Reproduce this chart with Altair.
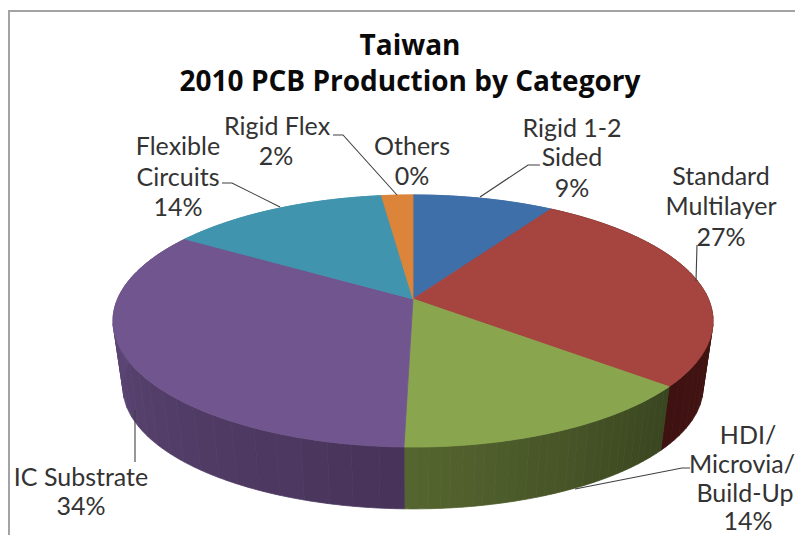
import math
import altair as alt

# Slice data, clockwise from 12 o'clock
categories = ["Rigid 1-2 Sided", "Standard Multilayer", "HDI/Microvia/Build-Up",
              "IC Substrate", "Flexible Circuits", "Rigid Flex", "Others"]
shares = [9.0, 27.0, 14.4, 33.6, 14.0, 2.0, 0.0]
top_colors = ["#3f6fa8", "#a6443f", "#89a64e", "#71558e", "#4194ae", "#dc8439", "#dc8439"]
wall_start = ["#3f6fa8", "#4c1b19", "#3a4620", "#48345a", "#4194ae", "#dc8439", "#dc8439"]
wall_end = ["#3f6fa8", "#3e1211", "#55652f", "#634c80", "#4194ae", "#dc8439", "#dc8439"]

# Pie geometry in a perspective view
CX, APEX_Y, K, A, B = 413.0, 299.0, 0.1746, 295.4, 122.2
ELL_Y, BASE_Y, BASE_S = 321.0, 387.0, 0.967


def rim(deg):
    t = math.radians(deg)
    X, Y = math.sin(t), -math.cos(t)
    w = 1 - K * Y
    return [CX + A * X / w, APEX_Y + B * Y / w]


def base(p):
    return [CX + BASE_S * (p[0] - CX), BASE_Y + BASE_S * (p[1] - ELL_Y)]


def mix(c1, c2, f):
    a = [int(c1[i:i + 2], 16) for i in (1, 3, 5)]
    b = [int(c2[i:i + 2], 16) for i in (1, 3, 5)]
    return "#%02x%02x%02x" % tuple(round(u + (v - u) * f) for u, v in zip(a, b))


def feature(kind, coords, color):
    return {"type": "Feature", "properties": {"color": color},
            "geometry": {"type": kind, "coordinates": coords}}


wall_features, face_features = [], []
start = 0.0
for share, face, c0, c1 in zip(shares, top_colors, wall_start, wall_end):
    if share <= 0:
        continue
    a0, a1 = start * 3.6, (start + share) * 3.6
    n = max(2, int((a1 - a0) / 0.5))
    angles = [a0 + (a1 - a0) * i / n for i in range(n + 1)]
    face_features.append(feature(
        "Polygon", [[[CX, APEX_Y]] + [rim(d) for d in angles] + [[CX, APEX_Y]]], face))
    bands = 28
    for b in range(bands):
        sub = angles[b * n // bands: (b + 1) * n // bands + 1]
        upper = [rim(d) for d in sub]
        lower = [base(p) for p in reversed(upper)]
        wall_features.append(feature(
            "Polygon", [upper + lower + [upper[0]]], mix(c0, c1, b / (bands - 1))))
    start += share

# Leader lines
leader_paths = [
    [[222, 183], [232, 183], [280, 207]],
    [[333, 135], [343, 135], [397, 195]],
    [[540, 165], [528, 165], [480, 197]],
    [[697, 245], [696, 281]],
    [[135, 410], [135, 462]],
    [[690, 468], [682, 468], [575, 489]],
]

# Frame of the picture
frame_paths = [[[9, 535], [9, 11], [795, 11]]]

# Text
title_lines = ["Taiwan", "2010 PCB Production by Category"]
title_x = [410, 410]
title_y = [47, 83]
label_lines = ["Rigid 1-2", "Sided", "9%", "Standard", "Multilayer", "27%",
               "HDI/", "Microvia/", "Build-Up", "14%", "IC Substrate", "34%",
               "Flexible", "Circuits", "14%", "Rigid Flex", "2%", "Others", "0%"]
label_x = [572, 572, 572, 721, 721, 721, 748, 742, 745, 748, 81, 81,
           178, 178, 178, 277, 276, 412, 412]
label_y = [129, 158, 189, 177, 207, 238, 436, 465, 494, 522, 478, 507,
           147, 178, 208, 127, 157, 147, 177]

projection = alt.Projection(type="identity", scale=1, translate=[-8, -8])


def shapes(features):
    return alt.Chart(alt.InlineData(values=features)).mark_geoshape(strokeWidth=0.8).encode(
        fill=alt.Fill("properties.color:N", scale=None),
        stroke=alt.Stroke("properties.color:N", scale=None),
    )


def lines(paths, color, width):
    feats = [feature("LineString", p, color) for p in paths]
    return alt.Chart(alt.InlineData(values=feats)).mark_geoshape(
        filled=False, stroke=color, strokeWidth=width, fill="transparent")


def texts(lines_, xs, ys, **kw):
    rows = [{"t": t, "x": x, "y": y} for t, x, y in zip(lines_, xs, ys)]
    return alt.Chart(alt.InlineData(values=rows)).mark_text(
        align="center", baseline="middle", **kw).encode(
        longitude="x:Q", latitude="y:Q", text="t:N")


chart = alt.layer(
    lines(frame_paths, "#a3a3a3", 2),
    shapes(wall_features),
    shapes(face_features),
    lines(leader_paths, "#404040", 1.1),
    texts(title_lines, title_x, title_y, font="Open Sans", fontSize=28, fontWeight="bold", color="#0a0a0a"),
    texts(label_lines, label_x, label_y, font="Lato", fontSize=25, color="#333333"),
).properties(width=787, height=527, padding=0, projection=projection, background="white"
).configure_view(stroke=None)

chart.save("out.html", embed_options={"renderer": "svg", "actions": False})
